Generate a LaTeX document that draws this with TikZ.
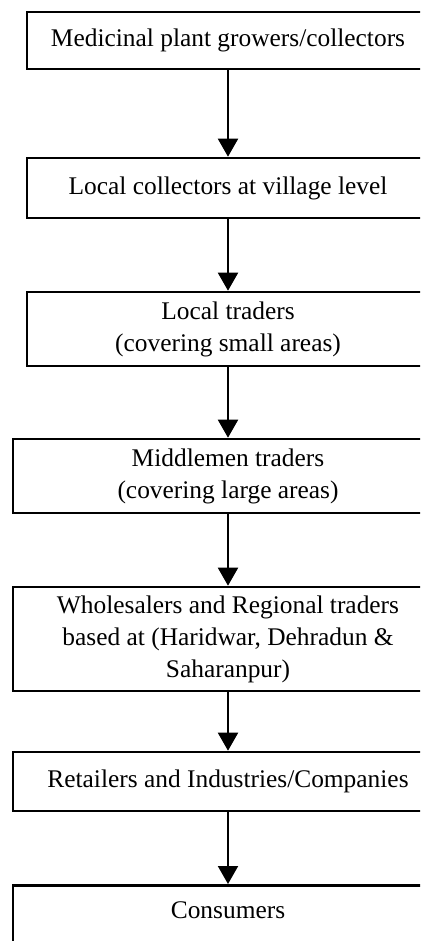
\documentclass[tikz,border=0pt]{standalone}
\usepackage{fontspec}
\setmainfont{Liberation Serif}
\usepackage{tikz}
\usetikzlibrary{arrows.meta}
\tikzset{
  stage/.style={draw, line width=1.3pt, align=center, inner sep=0pt, font=\fontsize{12.7}{16}\selectfont},
  narrow/.style={stage, minimum width=201pt},
  wide/.style={stage, minimum width=215pt},
  flow/.style={-{Stealth[length=9pt, width=10pt, inset=0pt]}, line width=1pt},
}

\begin{document}
\begin{tikzpicture}[x=0.5pt, y=-0.5pt]
  \useasboundingbox (0,0) rectangle (420,941);
  \clip (0,0) rectangle (420,941);
  \node[narrow, minimum height=28.5pt] (growers) at (228,40.5) {Medicinal plant growers/collectors};
  \node[narrow, minimum height=30pt] (village) at (228,188) {Local collectors at village level};
  \node[narrow, minimum height=37pt] (local) at (228,329) {Local traders\\(covering small areas)};
  \node[wide, minimum height=37pt] (middle) at (228,476) {Middlemen traders\\(covering large areas)};
  \node[wide, minimum height=52pt] (whole) at (228,639) {Wholesalers and Regional traders\\based at (Haridwar, Dehradun \&\\Saharanpur)};
  \node[wide, minimum height=29.5pt] (retail) at (228,781.5) {Retailers and Industries/Companies};
  \node[wide, anchor=north, text height=16.5pt, text depth=21.5pt] (consumers) at (228,884) {Consumers};
  \draw[flow] (growers) -- (village);
  \draw[flow] (village) -- (local);
  \draw[flow] (local) -- (middle);
  \draw[flow] (middle) -- (whole);
  \draw[flow] (whole) -- (retail);
  \draw[flow] (retail) -- (consumers);
\end{tikzpicture}
\end{document}
